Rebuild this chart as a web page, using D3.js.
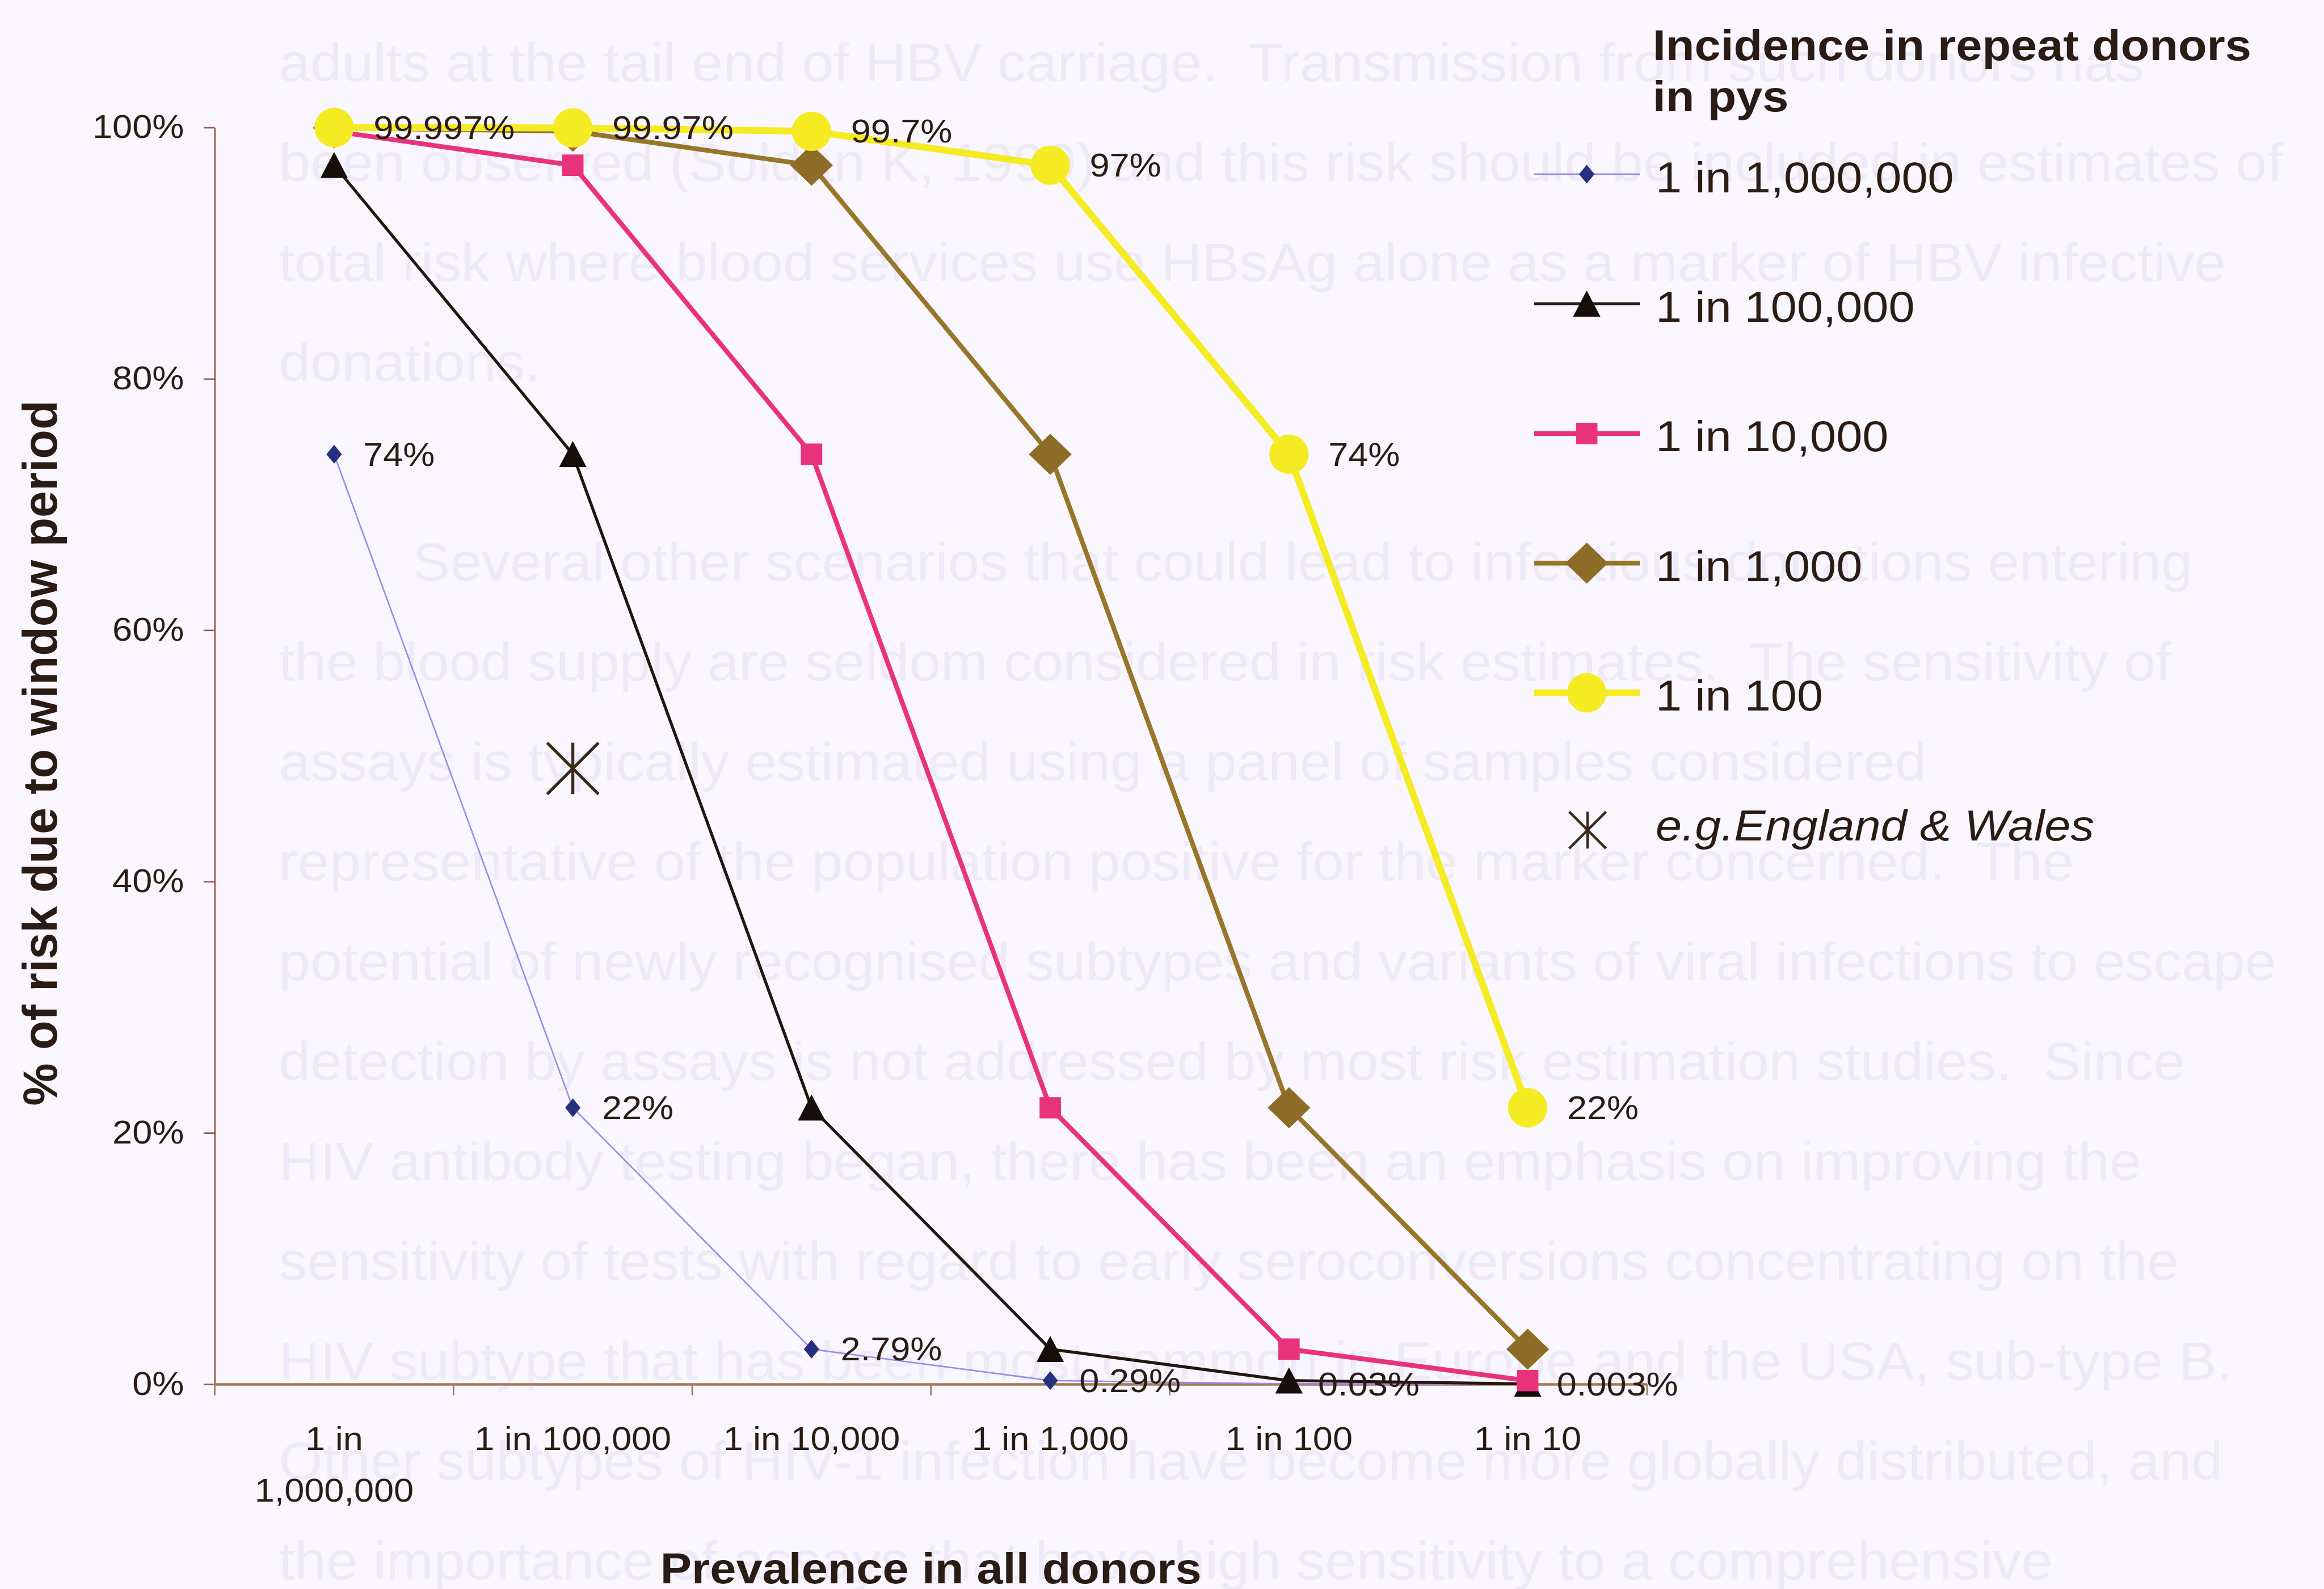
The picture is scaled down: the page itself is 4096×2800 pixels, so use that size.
<!DOCTYPE html>
<html>
<head>
<meta charset="utf-8">
<script src="https://cdn.jsdelivr.net/npm/d3@7"></script>
<style>
  html, body { margin: 0; padding: 0; background: #f9f7fd; }
  svg { display: block; }
</style>
</head>
<body>
<script>
// ---- Data -----------------------------------------------------------------
// Prevalence in all donors (x categories)
const categories = ["1 in 1,000,000", "1 in 100,000", "1 in 10,000", "1 in 1,000", "1 in 100", "1 in 10"];

// Incidence in repeat donors (series), % of risk due to window period
const seriesNames = ["1 in 1,000,000", "1 in 100,000", "1 in 10,000", "1 in 1,000", "1 in 100"];
const incidence1in1000000 = [74, 22, 2.79, 0.29, 0.03, 0.003];
const incidence1in100000  = [97, 74, 22, 2.79, 0.29, 0.03];
const incidence1in10000   = [99.7, 97, 74, 22, 2.79, 0.29];
const incidence1in1000    = [99.97, 99.7, 97, 74, 22, 2.79];
const incidence1in100     = [99.997, 99.97, 99.7, 97, 74, 22];

// Single highlighted example point
const exampleName = "e.g.England & Wales";
const exampleCategory = "1 in 100,000";
const exampleValue = 49;

const yTicks = [0, 20, 40, 60, 80, 100];
const legendTitle = ["Incidence in repeat donors", "in pys"];
const xTitle = "Prevalence in all donors";
const yTitle = "% of risk due to window period";

// Body text of the printed page behind the chart ("" marks a paragraph break)
const proseLines = [
  "adults at the tail end of HBV carriage.  Transmission from such donors has",
  "been observed (Soldan K, 1999) and this risk should be included in estimates of",
  "total risk where blood services use HBsAg alone as a marker of HBV infective",
  "donations.",
  "",
  "Several other scenarios that could lead to infectious donations entering",
  "the blood supply are seldom considered in risk estimates.  The sensitivity of",
  "assays is typically estimated using a panel of samples considered",
  "representative of the population positive for the marker concerned.  The",
  "potential of newly recognised subtypes and variants of viral infections to escape",
  "detection by assays is not addressed by most risk estimation studies.  Since",
  "HIV antibody testing began, there has been an emphasis on improving the",
  "sensitivity of tests with regard to early seroconversions concentrating on the",
  "HIV subtype that has been most common in Europe and the USA, sub-type B.",
  "Other subtypes of HIV-1 infection have become more globally distributed, and",
  "the importance of assays that have high sensitivity to a comprehensive"
];

// ---- Layout (drawn in 5432 x 3713 units, scaled to the window) ---------------
const SCALE = 0.754;
const SX = 1.1;                 // horizontal stretch of the chart lettering
const FONT = "'Liberation Sans', Arial, Helvetica, sans-serif";
const INK = "#2a1c14";
const AXIS_Y = "#97594c";
const AXIS_X = "#a27a58";
const PAGE = "#f9f7fd";
const PROSE = "#eeeaf8";

const svg = d3.select("body").append("svg")
  .attr("width", 4096).attr("height", 2800);
svg.append("rect").attr("width", 4096).attr("height", 2800).attr("fill", PAGE);
const root = svg.append("g").attr("transform", `scale(${SCALE})`);

function stretchedText(parent, x, y, str, o = {}) {
  const g = parent.append("g")
    .attr("transform", `translate(${x},${y}) scale(${o.sx ?? SX},1)`);
  return g.append("text")
    .attr("font-family", FONT)
    .attr("font-size", o.size ?? 76)
    .attr("font-weight", o.weight ?? "normal")
    .attr("font-style", o.style ?? "normal")
    .attr("fill", o.fill ?? INK)
    .attr("text-anchor", o.anchor ?? "start")
    .attr("dy", o.dy ?? 0)
    .style("white-space", "pre")
    .text(str);
}

// ---- Page text underneath --------------------------------------------------
const prose = root.append("g");
let indentNext = false;
proseLines.forEach((line, i) => {
  if (line === "") { indentNext = true; return; }
  stretchedText(prose, indentNext ? 964 : 652, 190 + i * 233.4, line,
    { size: 125, sx: 1.06, fill: PROSE });
  indentNext = false;
});

// ---- Scales ----------------------------------------------------------------
const x = d3.scaleBand().domain(categories).range([502, 3850]).padding(0);
const y = d3.scaleLinear().domain([0, 100]).range([3235, 298]);
const cx = c => x(c) + x.bandwidth() / 2;

// ---- Axes ------------------------------------------------------------------
const gy = root.append("g")
  .attr("transform", `translate(${x.range()[0]},0)`)
  .call(d3.axisLeft(y).tickValues(yTicks).tickFormat(d => d + "%")
    .tickSize(26).tickSizeOuter(0).tickPadding(46));
gy.attr("font-family", FONT).attr("font-size", 76);
gy.select(".domain").attr("stroke", AXIS_Y).attr("stroke-width", 3.5);
gy.selectAll(".tick line").attr("stroke", AXIS_Y).attr("stroke-width", 3.5);
gy.selectAll(".tick text").attr("fill", INK)
  .attr("x", -72 / SX).attr("transform", `scale(${SX},1)`);

const gx = root.append("g")
  .attr("transform", `translate(0,${y(0)})`)
  .call(d3.axisBottom(x).tickSize(0).tickSizeOuter(0).tickPadding(0));
gx.attr("font-family", FONT).attr("font-size", 76);
gx.select(".domain").attr("stroke", AXIS_X).attr("stroke-width", 6);
gx.selectAll(".tick line").remove();
gx.selectAll(".tick text")
  .attr("fill", INK).attr("y", 153).attr("dy", 0)
  .attr("transform", `scale(${SX},1)`)
  .each(function (d) {
    const t = d3.select(this);
    if (this.getComputedTextLength() * SX > x.step() * 0.92) {
      const cut = d.lastIndexOf(" ");
      t.text(null);
      t.append("tspan").attr("x", 0).text(d.slice(0, cut));
      t.append("tspan").attr("x", 0).attr("dy", 121).text(d.slice(cut + 1));
    }
  });
// tick marks between categories
gx.selectAll(".sep")
  .data(d3.range(categories.length + 1).map(i => x.range()[0] + i * x.step()))
  .join("line").attr("class", "sep")
  .attr("x1", d => d).attr("x2", d => d).attr("y1", 0).attr("y2", 26)
  .attr("stroke", AXIS_X).attr("stroke-width", 3.5);

// ---- Axis titles -------------------------------------------------------------
stretchedText(root, 2176, 3700, xTitle, { size: 100, weight: "bold", anchor: "middle" });
root.append("text")
  .attr("transform", `translate(133,1760) rotate(-90)`)
  .attr("font-family", FONT).attr("font-size", 112).attr("font-weight", "bold")
  .attr("fill", INK).attr("text-anchor", "middle")
  .text(yTitle);

// ---- Markers -----------------------------------------------------------------
const markerPaths = {
  smallDiamond: "M0,-22L18,0L0,22L-18,0Z",
  triangle: "M0,-31L32,30L-32,30Z",
  square: "M-25,-25H25V25H-25Z",
  diamond: "M0,-48L50,0L0,48L-50,0Z",
  circle: d3.symbol(d3.symbolCircle, Math.PI * 46 * 46)()
};
function asterisk(g, s, color, w) {
  const h = s / 2;
  g.append("path")
    .attr("d", `M0,${-h}V${h}M${-h},${-h}L${h},${h}M${h},${-h}L${-h},${h}`)
    .attr("stroke", color).attr("stroke-width", w).attr("fill", "none");
}

const series = [
  { name: seriesNames[0], values: incidence1in1000000, stroke: "#9a8aec", width: 3.5, marker: "smallDiamond", fill: "#26307e", labelled: true,  gap: 50 },
  { name: seriesNames[1], values: incidence1in100000,  stroke: "#22170f", width: 7,   marker: "triangle",     fill: "#150e09", labelled: false },
  { name: seriesNames[2], values: incidence1in10000,   stroke: "#e8337c", width: 11,  marker: "square",       fill: "#e8337c", labelled: false },
  { name: seriesNames[3], values: incidence1in1000,    stroke: "#977529", width: 11,  marker: "diamond",      fill: "#8d6c27", labelled: false },
  { name: seriesNames[4], values: incidence1in100,     stroke: "#f5eb22", width: 16,  marker: "circle",       fill: "#f5eb22", labelled: true,  gap: 46 }
];
const markerHalfWidth = { smallDiamond: 18, triangle: 32, square: 25, diamond: 50, circle: 46 };

const line = d3.line().x(d => cx(d.c)).y(d => y(d.v));
const plot = root.append("g");
series.forEach(s => {
  const pts = s.values.map((v, i) => ({ c: categories[i], v }));
  const g = plot.append("g");
  g.append("path").datum(pts).attr("d", line)
    .attr("fill", "none").attr("stroke", s.stroke).attr("stroke-width", s.width)
    .attr("stroke-linejoin", "round");
  g.selectAll(".m").data(pts).join("path").attr("class", "m")
    .attr("transform", d => `translate(${cx(d.c)},${y(d.v)})`)
    .attr("d", markerPaths[s.marker]).attr("fill", s.fill);
});

// highlighted example
asterisk(plot.append("g").attr("transform", `translate(${cx(exampleCategory)},${y(exampleValue)})`),
  120, "#3b2a1a", 7);

// ---- Data labels ---------------------------------------------------------------
const labels = root.append("g");
series.filter(s => s.labelled).forEach(s => {
  s.values.forEach((v, i) => {
    stretchedText(labels, cx(categories[i]) + markerHalfWidth[s.marker] + s.gap, y(v), v + "%",
      { size: 76, dy: "0.35em" });
  });
});

// ---- Legend --------------------------------------------------------------------
const legend = root.append("g");
legendTitle.forEach((t, i) =>
  stretchedText(legend, 3863, 140 + i * 120, t, { size: 100, weight: "bold" }));
series.forEach((s, i) => {
  const base = 449 + i * 303;
  const ly = base - 42;
  legend.append("line").attr("x1", 3586).attr("x2", 3833).attr("y1", ly).attr("y2", ly)
    .attr("stroke", s.stroke).attr("stroke-width", s.width);
  legend.append("path").attr("transform", `translate(3709,${ly})`)
    .attr("d", markerPaths[s.marker]).attr("fill", s.fill);
  stretchedText(legend, 3870, base, s.name, { size: 100 });
});
{
  const base = 449 + series.length * 303;
  asterisk(legend.append("g").attr("transform", `translate(3711,${base - 24})`), 86, "#3b2a1a", 6);
  stretchedText(legend, 3870, base, exampleName, { size: 100, style: "italic" });
}
</script>
</body>
</html>
